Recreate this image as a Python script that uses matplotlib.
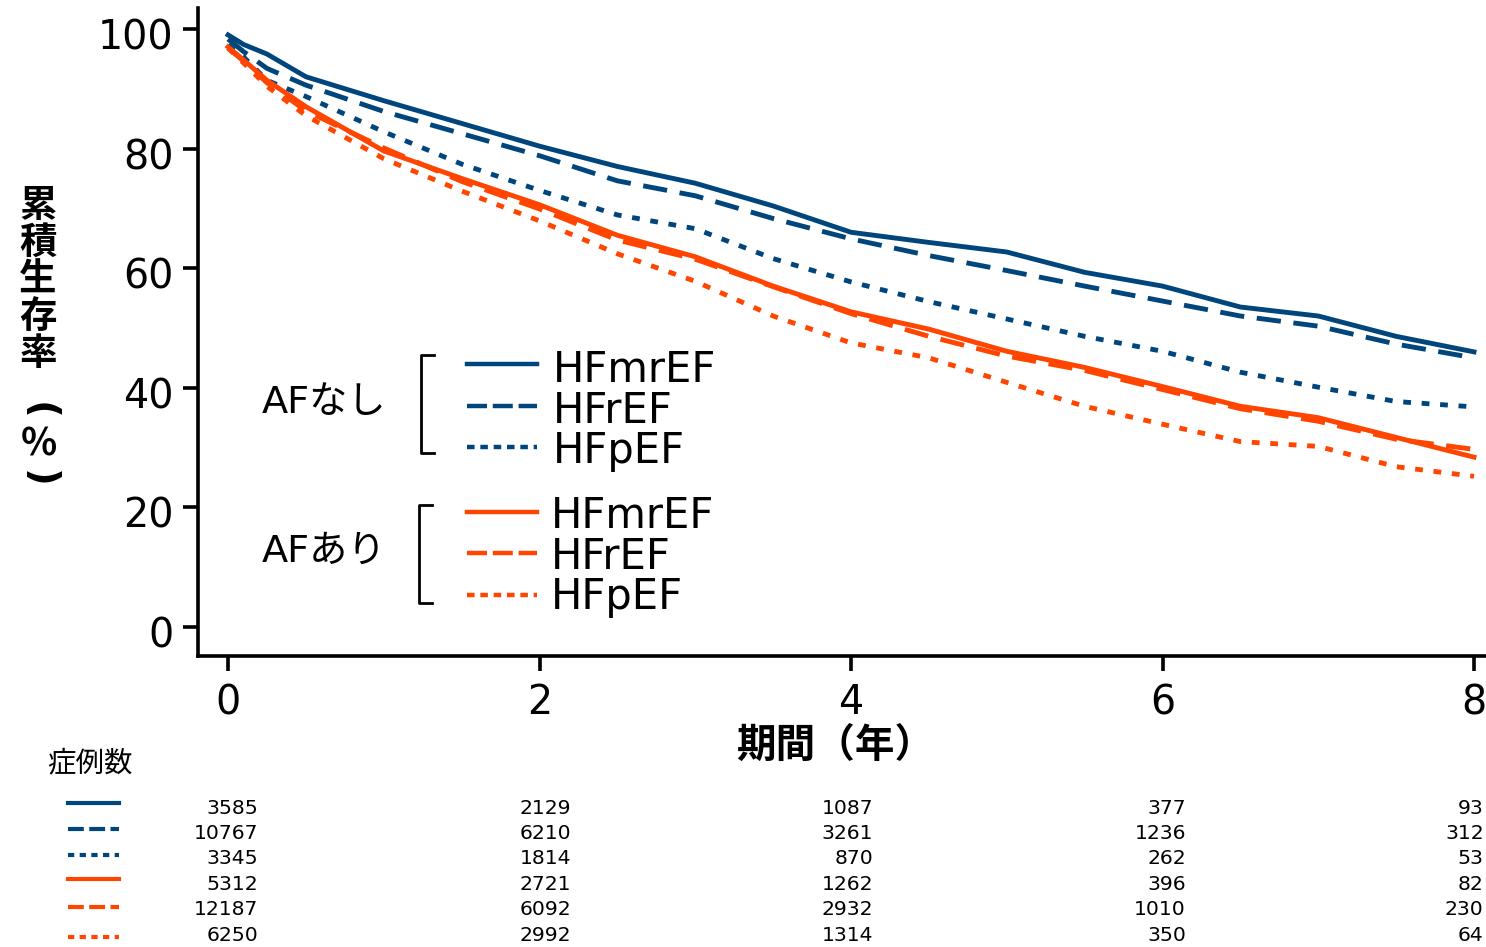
import matplotlib
matplotlib.use('Agg')
import matplotlib.pyplot as plt
from matplotlib.lines import Line2D
from matplotlib import transforms

W, H = 1486, 947

# survival curves (year, %)
years = [0, 0.1, 0.25, 0.5, 1, 1.5, 2, 2.5, 3, 3.5, 4, 4.5, 5, 5.5, 6, 6.5, 7, 7.5, 8]
noaf_hfmref = [99.0, 97.4, 95.8, 92.0, 88.0, 84.2, 80.4, 77.0, 74.2, 70.4, 66.0, 64.3, 62.7, 59.3, 57.0, 53.5, 52.0, 48.6, 46.0]
noaf_hfref = [98.3, 96.2, 93.4, 90.6, 86.2, 82.5, 78.8, 74.6, 72.1, 68.3, 64.9, 62.1, 59.6, 57.0, 54.5, 52.0, 50.3, 47.3, 45.0]
noaf_hfpef = [97.3, 95.3, 91.4, 88.7, 82.8, 77.4, 73.0, 68.9, 66.6, 61.6, 57.7, 54.4, 51.5, 48.6, 46.1, 42.6, 40.1, 37.7, 36.8]
af_hfmref = [97.0, 94.8, 91.4, 87.0, 79.6, 75.0, 70.6, 65.5, 61.9, 57.0, 52.7, 49.8, 46.1, 43.4, 40.2, 36.9, 35.0, 31.7, 28.4]
af_hfref = [96.8, 94.6, 91.0, 86.3, 80.1, 74.5, 69.9, 64.7, 61.5, 56.9, 52.4, 48.6, 45.3, 42.9, 39.7, 36.5, 34.4, 31.4, 29.7]
af_hfpef = [96.8, 94.3, 90.4, 85.5, 78.3, 72.9, 67.9, 62.4, 57.8, 52.0, 47.5, 45.0, 40.9, 36.9, 33.9, 31.0, 30.2, 26.8, 25.2]

# number at risk (last column is cut off at the picture edge in the source)
risk_years = [0, 2, 4, 6, 8]
risk_noaf_hfmref = [3585, 2129, 1087, 377, 93]
risk_noaf_hfref = [10767, 6210, 3261, 1236, 312]
risk_noaf_hfpef = [3345, 1814, 870, 262, 53]
risk_af_hfmref = [5312, 2721, 1262, 396, 82]
risk_af_hfref = [12187, 6092, 2932, 1010, 230]
risk_af_hfpef = [6250, 2992, 1314, 350, 64]

type_labels = ['HFmrEF', 'HFrEF', 'HFpEF']
group_labels = ['AFなし', 'AFあり']
xticks = [0, 2, 4, 6, 8]
yticks = [0, 20, 40, 60, 80, 100]

BLUE = '#00457c'
ORANGE = '#ff4500'

plt.rcParams['font.family'] = ['DejaVu Sans', 'Noto Sans CJK JP']


def fx(px):
    return px / W


def fy(py):
    return 1 - py / H


fig = plt.figure(figsize=(W / 100, H / 100), dpi=100)
ax = fig.add_axes([fx(198), fy(656), 1 - fx(198), (656 - 8) / H])

curve_dashes = [None, (5, 2.6), (1.6, 2.2)]
groups = [
    (BLUE, [noaf_hfmref, noaf_hfref, noaf_hfpef]),
    (ORANGE, [af_hfmref, af_hfref, af_hfpef]),
]
for color, curves in groups:
    for vals, dash in zip(curves, curve_dashes):
        line, = ax.plot(years, vals, color=color, lw=3.5)
        if dash:
            line.set_dashes(dash)

ax.set_xlim(-0.193, 8.077)
ax.set_ylim(-4.85, 103.5)
ax.set_xticks(xticks)
ax.set_yticks(yticks)
for s in ['top', 'right']:
    ax.spines[s].set_visible(False)
for s in ['left', 'bottom']:
    ax.spines[s].set_linewidth(2.6)
ax.tick_params(axis='both', direction='out', length=10.5, width=2.6, labelsize=28.5)
ax.tick_params(axis='y', pad=7)
ax.tick_params(axis='x', pad=9)
# labels sit a little below their ticks in the source
shift = transforms.ScaledTranslation(0, -5 / 100, fig.dpi_scale_trans)
for lab in ax.get_yticklabels():
    lab.set_transform(lab.get_transform() + shift)

# y label, characters stacked vertically
for ch, py in zip(['累', '積', '生', '存', '率'], [205, 242, 279, 316, 353]):
    fig.text(fx(38), fy(py), ch, fontsize=27, fontweight='bold', ha='center', va='center',
             family='Noto Sans CJK JP')
fig.text(fx(39), fy(411), '(', fontsize=28, fontweight='bold', ha='center', va='center', rotation=-90)
fig.text(fx(39), fy(444), '%', fontsize=27, fontweight='bold', ha='center', va='center',
         family='Noto Sans CJK JP')
fig.text(fx(39), fy(479), ')', fontsize=28, fontweight='bold', ha='center', va='center', rotation=-90)

fig.text(fx(835), fy(745), '期間（年）', fontsize=28.5, fontweight='bold', ha='center', va='center',
         family='Noto Sans CJK JP')

# custom legend
legend_dashes = [None, (4.5, 1.3), (1.7, 1.3)]
legend_rows = [[364, 406, 447], [512, 553, 595]]
legend_text_x = [553, 551]
legend_base = [[382, 423, 463], [528, 569, 609]]
group_base = [413, 562]
brackets = [(421, 434, 355, 453), (419, 432, 505, 603)]
for g, (color, _) in enumerate(groups):
    for k in range(3):
        py = legend_rows[g][k]
        ln = Line2D([fx(467), fx(537)], [fy(py), fy(py)], transform=fig.transFigure,
                    color=color, lw=3.2)
        if legend_dashes[k]:
            ln.set_dashes(legend_dashes[k])
        fig.add_artist(ln)
        fig.text(fx(legend_text_x[g]), fy(legend_base[g][k]), type_labels[k], fontsize=30,
                 ha='left', va='baseline')
    fig.text(fx(262), fy(group_base[g]), group_labels[g], fontsize=27.5, ha='left', va='baseline')
    x0, x1, y0, y1 = brackets[g]
    fig.add_artist(Line2D([fx(x1), fx(x0), fx(x0), fx(x1)], [fy(y0), fy(y0), fy(y1), fy(y1)],
                          transform=fig.transFigure, color='black', lw=2))

# number at risk table
fig.text(fx(47), fy(763), '症例数', fontsize=20.5, ha='left', va='center', family='Noto Sans CJK JP')
risk_rows = [risk_noaf_hfmref, risk_noaf_hfref, risk_noaf_hfpef,
             risk_af_hfmref, risk_af_hfref, risk_af_hfpef]
row_line_y = [803, 829, 855, 879, 907, 937]
row_text_y = [808, 833, 858, 884, 909, 935]
col_offsets = [0.193, 0.202, 0.141, 0.151, 0.062]
table_dashes = [None, (3.8, 1.3), (1.5, 1.3)]
blend = transforms.blended_transform_factory(ax.transData, fig.transFigure)
for i, counts in enumerate(risk_rows):
    color = BLUE if i < 3 else ORANGE
    ln = Line2D([fx(68), fx(119)], [fy(row_line_y[i]), fy(row_line_y[i])],
                transform=fig.transFigure, color=color, lw=3)
    if table_dashes[i % 3]:
        ln.set_dashes(table_dashes[i % 3])
    fig.add_artist(ln)
    for yr, off, n in zip(risk_years, col_offsets, counts):
        fig.text(yr + off, fy(row_text_y[i]), str(n), transform=blend, fontsize=14.7,
                 ha='right', va='center')

fig.savefig('out.png', dpi=100)
